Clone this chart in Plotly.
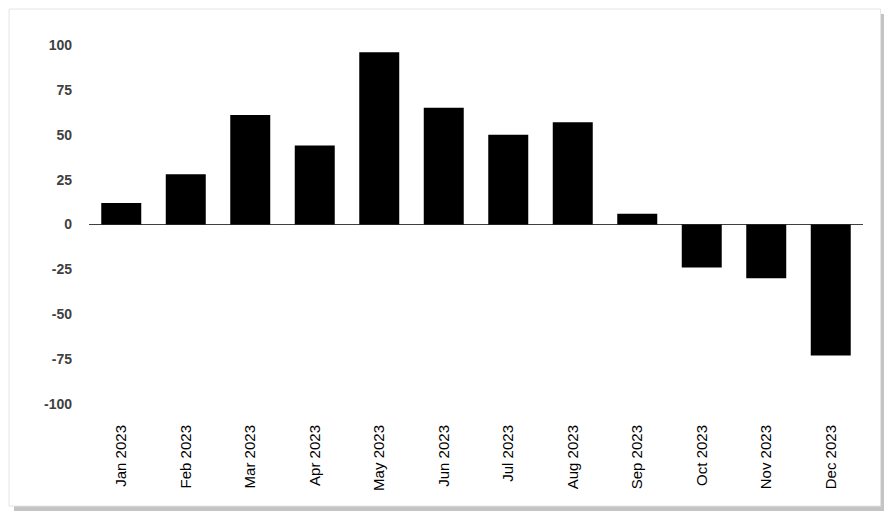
import plotly.graph_objects as go

months = ["Jan 2023", "Feb 2023", "Mar 2023", "Apr 2023", "May 2023", "Jun 2023",
          "Jul 2023", "Aug 2023", "Sep 2023", "Oct 2023", "Nov 2023", "Dec 2023"]
values = [12, 28, 61, 44, 96, 65, 50, 57, 6, -24, -30, -73]
y_ticks = [100, 75, 50, 25, 0, -25, -50, -75, -100]

OFF = 8  # page body margin
W, H = 892 - OFF, 518 - OFF
L, R, T, B = 89 - OFF, 28.5, 45 - OFF, 114
pw, ph = W - L - R, H - T - B

def px(x):
    return (x - OFF - L) / pw

def py(y):
    return (H - B - (y - OFF)) / ph

fig = go.Figure(go.Bar(x=months, y=values, marker=dict(color="#000000", line=dict(width=0)),
                       width=0.62))

shapes = [
    dict(type="rect", xref="paper", yref="paper", x0=px(881), x1=px(886), y0=py(506), y1=py(14),
         fillcolor="#c4c4c4", line=dict(width=0), layer="below"),
    dict(type="rect", xref="paper", yref="paper", x0=px(14), x1=px(886), y0=py(511), y1=py(506),
         fillcolor="#c4c4c4", line=dict(width=0), layer="below"),
    dict(type="rect", xref="paper", yref="paper", x0=px(9), x1=px(881), y0=py(506), y1=py(9),
         fillcolor="#ffffff", line=dict(width=1, color="#e4e4e4"), layer="below"),
]

fig.update_layout(
    width=W, height=H,
    margin=dict(l=L, r=R, t=T, b=B, autoexpand=False),
    paper_bgcolor="#ffffff", plot_bgcolor="rgba(0,0,0,0)",
    showlegend=False,
    shapes=shapes,
    font=dict(family="Arial, Liberation Sans, sans-serif"),
)
fig.update_xaxes(type="category", tickangle=-90, showgrid=False, showline=False, ticks="",
                 tickfont=dict(size=15, color="#000000"), ticklabelstandoff=17)
fig.update_yaxes(range=[-100, 100], tickvals=y_ticks, ticktext=[str(v) for v in y_ticks],
                 showgrid=False, zeroline=True, zerolinecolor="#404040", zerolinewidth=1,
                 tickfont=dict(size=14, color="#404040", weight="bold"), ticklabelstandoff=16)

fig.write_html("out.html")
